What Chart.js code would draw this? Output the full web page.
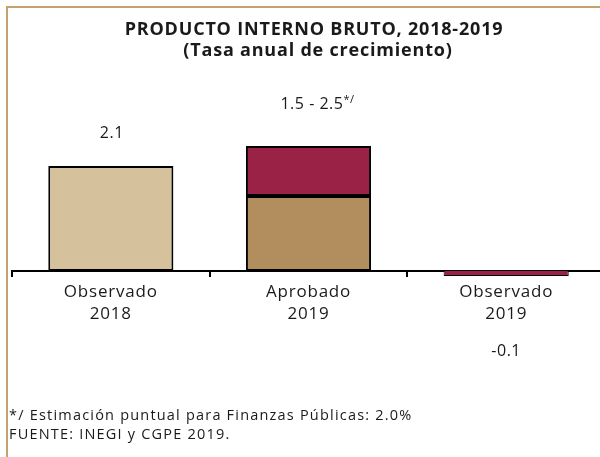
<!DOCTYPE html>
<html lang="es">
<head>
  <meta charset="UTF-8" />
  <title>PIB 2018-2019</title>
  <style>
    html, body {
      margin: 0;
      padding: 0;
      overflow: hidden;
      background: #fff;
    }
    canvas {
      display: block;
    }
  </style>
</head>
<body>
  <canvas id="pibChart" width="606" height="457"></canvas>

  <script src="https://cdn.jsdelivr.net/npm/chart.js"></script>
  <script>
    // Datos
    const categorias = [["Observado", "2018"], ["Aprobado", "2019"], ["Observado", "2019"]];
    const valorObservado = [2.1, null, -0.1];
    const rangoBajo = [null, 1.5, null];
    const rangoAlto = [null, 2.5, null];
    const notaRango = "*/";
    const titulo = ["PRODUCTO INTERNO BRUTO, 2018-2019", "(Tasa anual de crecimiento)"];
    const notas = ["*/ Estimación puntual para Finanzas Públicas: 2.0%", "FUENTE: INEGI y CGPE 2019."];

    const colorClaro = "#d5c19b";
    const colorOscuro = "#b28e5e";
    const colorGuinda = "#9b2247";
    const colorMarco = "#c6a16c";
    const fuente = "'Open Sans', 'DejaVu Sans', sans-serif";

    // barra base: observado o límite inferior del rango
    const baseData = categorias.map((c, i) =>
      valorObservado[i] !== null ? [0, valorObservado[i]] : [0, rangoBajo[i]]);
    const baseColors = categorias.map((c, i) =>
      valorObservado[i] === null ? colorOscuro : (valorObservado[i] < 0 ? colorGuinda : colorClaro));
    // las barras negativas son muy delgadas: borde fino para que se vea el color
    const baseBorders = valorObservado.map(v =>
      v !== null && v < 0 ? { top: 0, left: 1, right: 1, bottom: 1 } : 2);
    const rangoData = rangoAlto.map((v, i) => v === null ? null : [rangoBajo[i], v]);

    // marco, título, etiquetas y notas
    const textos = {
      id: "textos",
      beforeDraw(chart) {
        const ctx = chart.ctx;
        ctx.save();
        ctx.fillStyle = colorMarco;
        ctx.fillRect(6, 6, chart.width, 2);
        ctx.fillRect(6, 6, 2, chart.height);
        ctx.restore();
        // la fuente original es más ancha
        ctx.letterSpacing = "0.8px";
      },
      afterDraw(chart) {
        const ctx = chart.ctx;
        const x = chart.scales.x;
        const y = chart.scales.y;
        ctx.save();
        ctx.fillStyle = "#1a1a1a";
        ctx.textAlign = "center";
        ctx.textBaseline = "middle";

        // título
        ctx.letterSpacing = "0.8px";
        ctx.font = "bold 18px " + fuente;
        ctx.fillText(titulo[0], 314, 30);
        ctx.fillText(titulo[1], 318, 51);

        // etiquetas de valor
        ctx.letterSpacing = "0.5px";
        categorias.forEach((c, i) => {
          const px = x.getPixelForValue(i);
          if (rangoAlto[i] !== null) {
            const txt = rangoBajo[i].toFixed(1) + " - " + rangoAlto[i].toFixed(1);
            ctx.font = "16px " + fuente;
            const w1 = ctx.measureText(txt).width;
            ctx.font = "11px " + fuente;
            const w2 = ctx.measureText(notaRango).width;
            const left = px + 9 - (w1 + w2) / 2;
            const py = y.getPixelForValue(rangoAlto[i]) - 42;
            ctx.textAlign = "left";
            ctx.font = "16px " + fuente;
            ctx.fillText(txt, left, py);
            ctx.font = "11px " + fuente;
            ctx.fillText(notaRango, left + w1, py - 4);
            ctx.textAlign = "center";
          } else if (valorObservado[i] >= 0) {
            ctx.font = "16px " + fuente;
            ctx.fillText(valorObservado[i].toFixed(1), px + 1, y.getPixelForValue(valorObservado[i]) - 33);
          } else {
            ctx.font = "16px " + fuente;
            ctx.fillText(valorObservado[i].toFixed(1), px, y.getPixelForValue(0) + 80);
          }
        });

        // notas
        ctx.textAlign = "left";
        ctx.letterSpacing = "1.2px";
        ctx.font = "14.5px " + fuente;
        ctx.fillText(notas[0], 9, 416);
        ctx.fillText(notas[1], 9, 435);
        ctx.restore();
      }
    };

    new Chart(document.getElementById("pibChart"), {
      type: "bar",
      data: {
        labels: categorias,
        datasets: [{
          label: "Base",
          data: baseData,
          backgroundColor: baseColors,
          borderColor: "#000",
          borderWidth: baseBorders,
          borderSkipped: false,
          grouped: false,
          barPercentage: 0.633,
          categoryPercentage: 1
        }, {
          label: "Rango",
          data: rangoData,
          backgroundColor: colorGuinda,
          borderColor: "#000",
          borderWidth: 2,
          borderSkipped: false,
          grouped: false,
          barPercentage: 0.633,
          categoryPercentage: 1
        }]
      },
      options: {
        responsive: false,
        animation: false,
        devicePixelRatio: 1,
        layout: {
          padding: { left: 12, right: 1, top: 121, bottom: 136 }
        },
        plugins: {
          legend: { display: false },
          tooltip: { enabled: false }
        },
        scales: {
          x: {
            position: { y: 0 },
            grid: {
              display: true,
              offset: true,
              drawOnChartArea: false,
              drawTicks: true,
              tickLength: 5,
              color: "#000",
              lineWidth: 2
            },
            border: { display: true, color: "#000", width: 2 },
            ticks: {
              color: "#1a1a1a",
              padding: 6,
              font: { family: fuente, size: 17, lineHeight: 1.25 },
              maxRotation: 0
            }
          },
          y: {
            display: false,
            min: -1,
            max: 3
          }
        }
      },
      plugins: [textos]
    });
  </script>
</body>
</html>
